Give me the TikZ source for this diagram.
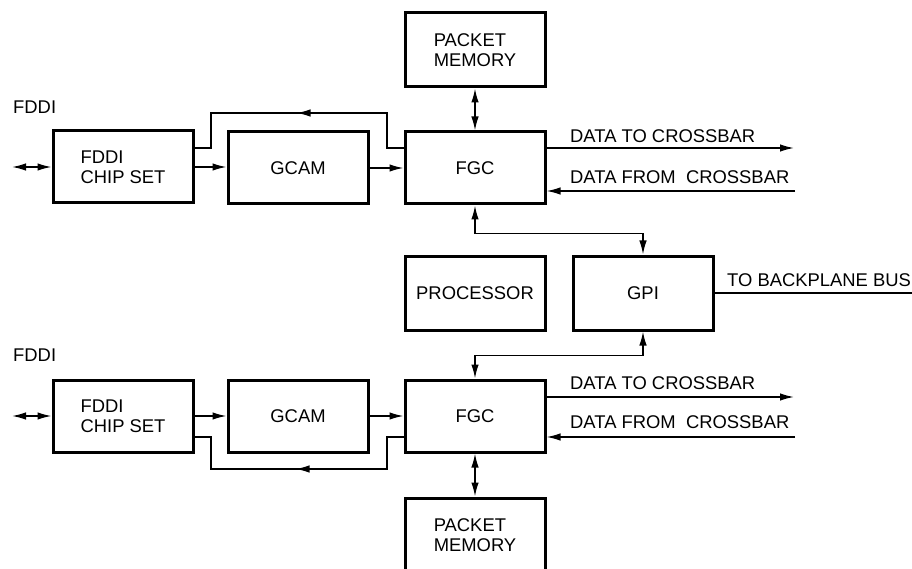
\documentclass[tikz,border=0pt]{standalone}
\usepackage{fontspec}
\setmainfont{Liberation Sans}
\usetikzlibrary{arrows.meta,decorations.markings}

\begin{document}
\begin{tikzpicture}[x=1pt,y=-1pt,
  >={Latex[length=14pt,width=7.5pt]},
  every node/.style={font=\fontsize{18.4}{20}\selectfont},
  blk/.style={draw,line width=3pt,minimum width=140pt,minimum height=72pt,
              inner sep=0pt,align=left},
  wire/.style={line width=1.5pt},
  lbl/.style={anchor=west,inner sep=0pt},
  midarrow/.style={postaction={decorate,decoration={markings,
      mark=at position #1 with {\arrow{>}}}}}
]
\clip (0,0) rectangle (912,569);
\fill[white] (0,0) rectangle (912,569);

% ---- upper FDDI port ----
\node[lbl] (fddiA) at (13,107) {FDDI};
\node[blk] (chip1) at (123,167) {FDDI\\CHIP SET};
\node[blk] (gcam1) at (298,168) {GCAM};
\node[blk] (fgc1)  at (475,168) {FGC};
\node[blk,minimum height=74pt] (pm1) at (475,50) {PACKET\\MEMORY};

% ---- shared processor and bus interface ----
\node[blk,minimum height=74pt] (proc) at (475,293) {PROCESSOR};
\node[blk,minimum height=74pt] (gpi) at (643,293) {GPI};

% ---- lower FDDI port ----
\node[lbl] (fddiB) at (13,355) {FDDI};
\node[blk] (chip2) at (123,416) {FDDI\\CHIP SET};
\node[blk] (gcam2) at (298,416) {GCAM};
\node[blk] (fgc2)  at (475,416) {FGC};
\node[blk,minimum height=74pt] (pm2) at (475,535) {PACKET\\MEMORY};

% free ends of the external links
\coordinate (ring1) at (12,167);
\coordinate (ring2) at (12,416);
\coordinate (dto1) at (794,148);
\coordinate (dfr1) at (795,191);
\coordinate (dto2) at (794,397);
\coordinate (dfr2) at (795,437);
\coordinate (bus) at (912,293);

% ---- upper connectors ----
\draw[wire,<->] (ring1) -- (chip1.west);
\draw[wire,->] (chip1.east) -- (chip1.east -| gcam1.west);
\draw[wire,->] (gcam1.east) -- (gcam1.east -| fgc1.west);
\draw[wire,midarrow=142pt] ([yshift=20pt]fgc1.west) -| (387,113) -- (211,113)
  |- ([yshift=19pt]chip1.east);
\draw[wire,<->] (pm1.south) -- (fgc1.north);
\draw[wire,->] (fgc1.east |- dto1) -- (dto1);
\draw[wire,->] (dfr1) -- (fgc1.east |- dfr1);
\node[lbl] (tx1) at (570,136) {DATA TO CROSSBAR};
\node[lbl] (rx1) at (570,177) {DATA FROM~~CROSSBAR};
\draw[wire,<->] (fgc1.south) -- ++(0,28) -| (gpi.north);

% ---- bus interface ----
\draw[wire] (gpi.east) -- (bus);
\node[lbl] (bp) at (727,280) {TO BACKPLANE BUS};

% ---- lower connectors ----
\draw[wire,<->] (gpi.south) -- ++(0,24) -| (fgc2.north);
\draw[wire,<->] (ring2) -- (chip2.west);
\draw[wire,->] (chip2.east) -- (chip2.east -| gcam2.west);
\draw[wire,->] (gcam2.east) -- (gcam2.east -| fgc2.west);
\draw[wire,midarrow=140pt] ([yshift=-21pt]fgc2.west) -| (387,469) -- (211,469)
  |- ([yshift=-21pt]chip2.east);
\draw[wire,<->] (fgc2.south) -- (pm2.north);
\draw[wire,->] (fgc2.east |- dto2) -- (dto2);
\draw[wire,->] (dfr2) -- (fgc2.east |- dfr2);
\node[lbl] (tx2) at (570,383) {DATA TO CROSSBAR};
\node[lbl] (rx2) at (570,422) {DATA FROM~~CROSSBAR};
\end{tikzpicture}
\end{document}
